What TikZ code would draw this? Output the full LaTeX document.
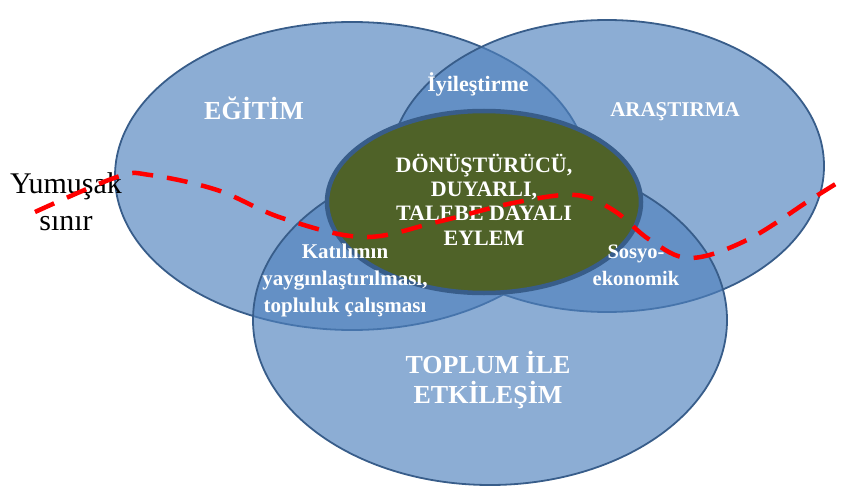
\documentclass[tikz,border=0pt]{standalone}
\usepackage{fontspec}
\setmainfont{Liberation Serif}
\usetikzlibrary{shapes.geometric}

\definecolor{setblue}{HTML}{4F81BD}
\definecolor{setedge}{HTML}{385D8A}
\definecolor{coregreen}{HTML}{4F6228}

\begin{document}
\begin{tikzpicture}[x=1pt, y=-1pt,
venn/.style={ellipse, draw=setedge, line width=1.8pt, fill=setblue, fill opacity=0.65, inner sep=0},
core/.style={ellipse, draw=setedge, line width=4.5pt, fill=coregreen, inner sep=0},
setlabel/.style={text=white, font=\bfseries\fontsize{21}{27}\selectfont, align=center, anchor=base},
settitle/.style={setlabel, font=\bfseries\fontsize{26}{30}\selectfont},
boundary/.style={red, line width=4.5pt, dash pattern=on 21pt off 14pt}
]
\useasboundingbox (0,0) rectangle (842,489);

%Sets
\node[venn, minimum width=474pt, minimum height=308pt] (Egitim)    at (352,176) {};
\node[venn, minimum width=434pt, minimum height=292pt] (Arastirma) at (607,166) {};
\node[venn, minimum width=474pt, minimum height=330pt] (Toplum)    at (490,320) {};
\node[core, minimum width=314pt, minimum height=182pt] (Eylem)     at (484,202) {};

%Labels (anchored at the last baseline)
\node[settitle] (EgitimT) at (254,120) {EĞİTİM};
\node[setlabel] (ArastirmaT) at (675,117) {ARAŞTIRMA};
\node[settitle] (ToplumT) at (488,403) {TOPLUM İLE\\ETKİLEŞİM};
\node[setlabel, font=\bfseries\fontsize{22}{27}\selectfont] (Iyi) at (478,92) {İyileştirme};
\node[setlabel] (Katilim) at (345,312) {Katılımın\\yaygınlaştırılması,\\topluluk çalışması};
\node[setlabel, font=\bfseries\fontsize{20.5}{27}\selectfont] (Sosyo) at (636,285) {Sosyo-\\ekonomik};
\node[setlabel, font=\bfseries\fontsize{22}{24.3}\selectfont] (EylemT) at (484,245) {DÖNÜŞTÜRÜCÜ,\\DUYARLI,\\TALEBE DAYALI\\EYLEM};
\node[anchor=base, align=center, font=\fontsize{30}{37}\selectfont] (Sinir) at (66,230) {Yumuşak\\sınır};

%Soft boundary
\draw[boundary] plot[smooth, tension=0.6] coordinates {(35,212) (117,177) (150,175) (217,190) (282,218) (363,237) (437,222) (513,203) (575,195) (613,210) (650,240) (690,258) (747,240) (810,200) (842,180)};
\end{tikzpicture}
\end{document}
